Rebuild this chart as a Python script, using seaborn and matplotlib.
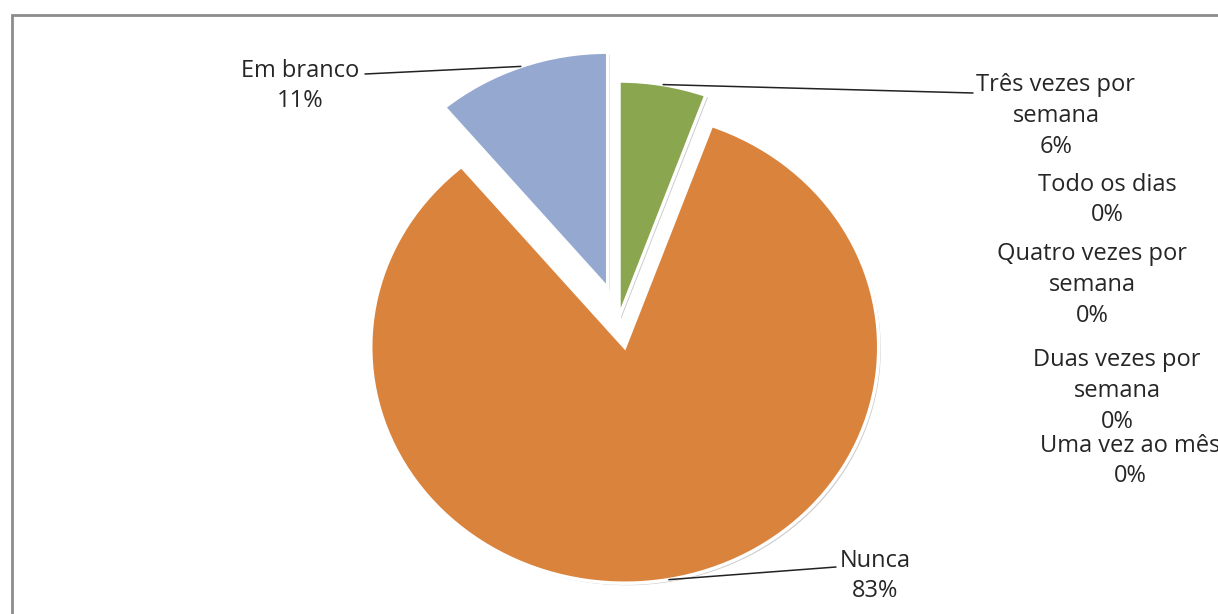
import matplotlib
matplotlib.use("Agg")
import matplotlib.pyplot as plt
import matplotlib.patheffects as pe
from matplotlib.patches import Rectangle
import numpy as np
import seaborn as sns

# data (clockwise from the top)
categories = ["Três vezes por semana", "Todo os dias", "Quatro vezes por semana",
              "Duas vezes por semana", "Uma vez ao mês", "Nunca", "Em branco"]
label_lines = ["Três vezes por\nsemana", "Todo os dias", "Quatro vezes por\nsemana",
               "Duas vezes por\nsemana", "Uma vez ao mês", "Nunca", "Em branco"]
counts = [1, 0, 0, 0, 0, 15, 2]
colors = ["#8AA64E", "#4F81BD", "#C0504D", "#8064A2", "#4BACC6", "#DA833D", "#95A9D0"]
explode = [0, 0, 0, 0, 0, 0.13, 0.13]

W, H = 1218, 614
sns.set_theme(style="white")
plt.rcParams["font.family"] = ["Open Sans", "DejaVu Sans"]

fig = plt.figure(figsize=(W / 100, H / 100), dpi=100)
ax = fig.add_axes([0, 0, 1, 1])

wedges, _ = ax.pie(
    counts, colors=colors, explode=explode, startangle=90, counterclock=False,
    wedgeprops=dict(edgecolor="white", linewidth=2.5),
)
for w, c in zip(wedges, counts):
    if c == 0:
        w.set_visible(False)
    w.set_path_effects([pe.SimplePatchShadow(offset=(1.5, -1.5), shadow_rgbFace="#808080", alpha=0.4),
                        pe.Normal()])

# pie centre at (619, 317) px, radius 254 px across, 236 px high
rx, ry, cx, cy = 254, 236, 619, 317
ax.set_aspect("auto")
ax.set_xlim(-cx / rx, (W - cx) / rx)
ax.set_ylim(-(H - cy) / ry, cy / ry)
ax.axis("off")

def fig_px(x, y):
    return (x / W, 1 - y / H)

total = sum(counts)
pct = [f"{round(100 * c / total)}%" for c in counts]

# text block centres (px) and leader-line ends
text_pos = [(1056, 116), (1107, 200), (1092, 285), (1117, 391), (1130, 461), (875, 576), (300, 86)]
line_end = {0: (973, 93), 5: (836, 567), 6: (365, 74)}

for i, (lab, p) in enumerate(zip(label_lines, pct)):
    fig.text(*fig_px(*text_pos[i]), f"{lab}\n{p}", ha="center", va="center",
             fontsize=17, color="#262626", linespacing=1.37)
    if i in line_end:
        w = wedges[i]
        mid = np.deg2rad((w.theta1 + w.theta2) / 2)
        pt = (w.center[0] + w.r * np.cos(mid), w.center[1] + w.r * np.sin(mid))
        ax.annotate("", xy=pt, xycoords="data", xytext=fig_px(*line_end[i]),
                    textcoords="figure fraction",
                    arrowprops=dict(arrowstyle="-", color="#222222", lw=1.1,
                                    shrinkA=0, shrinkB=0))

# chart frame
fig.patches.append(Rectangle((12 / W, -0.1), 1.2, 1 - 15 / H + 0.1, transform=fig.transFigure,
                             fill=False, edgecolor="#8c8c8c", linewidth=2))

fig.savefig("out.png", dpi=100)
